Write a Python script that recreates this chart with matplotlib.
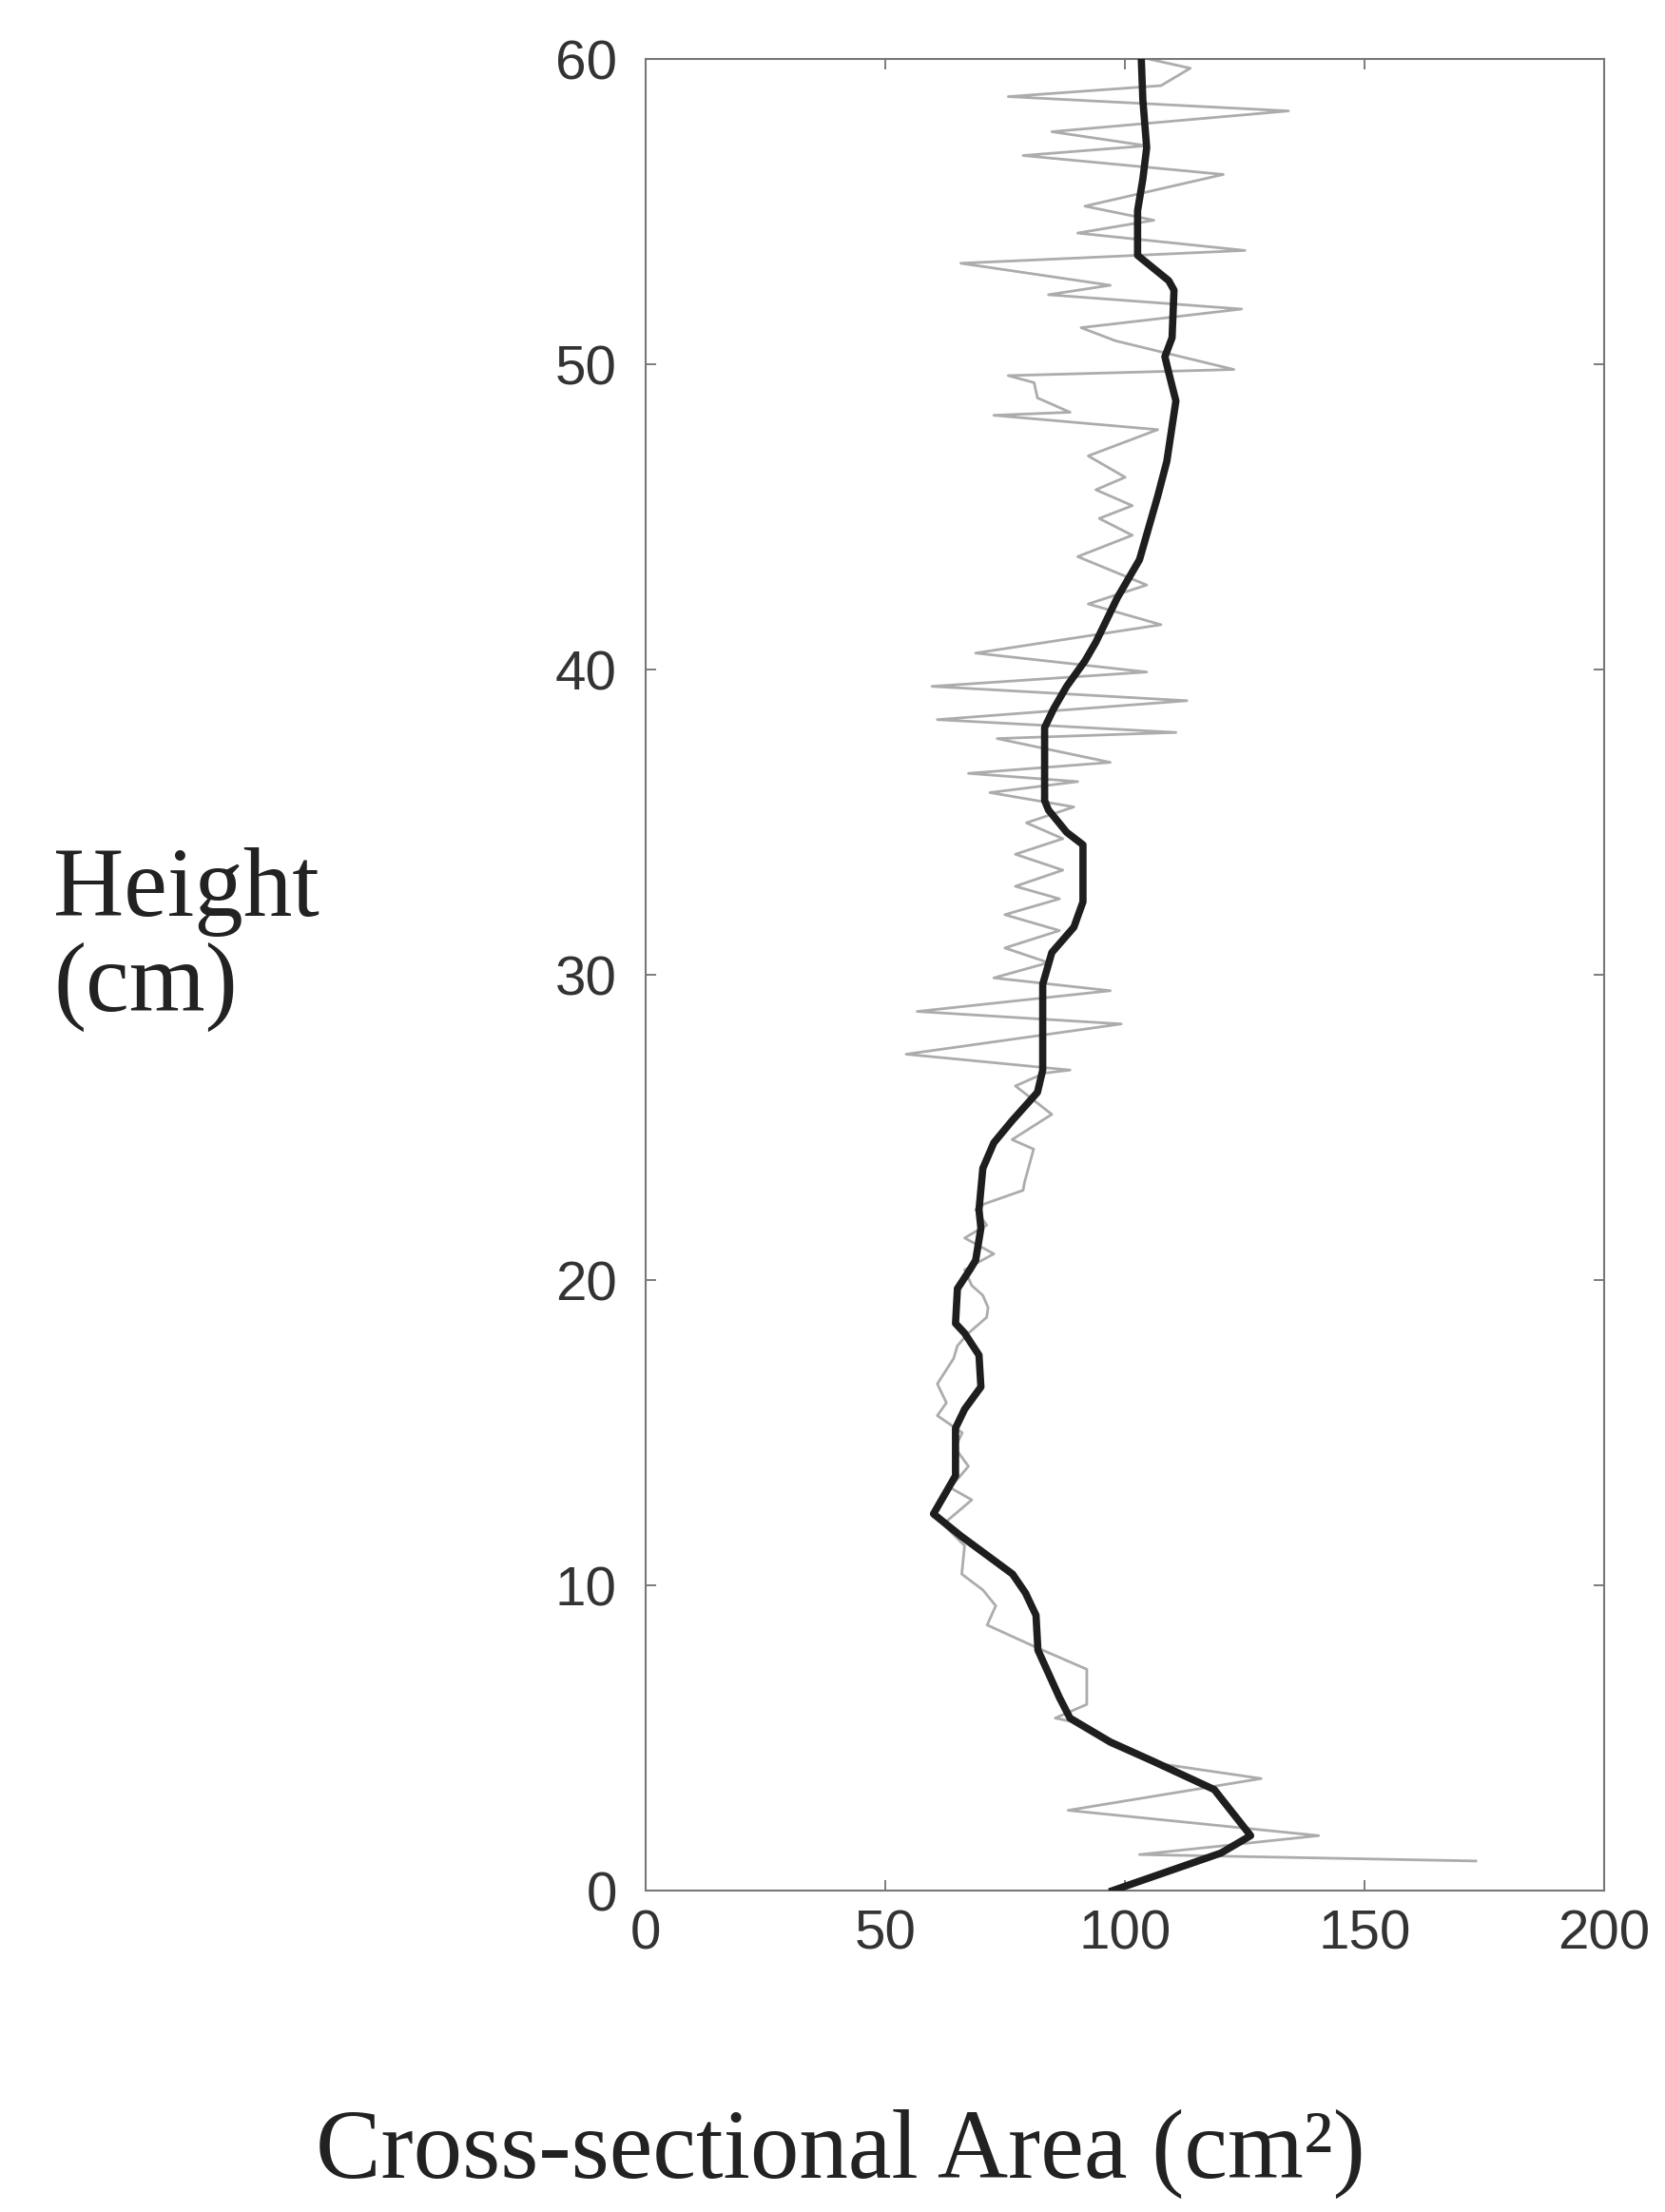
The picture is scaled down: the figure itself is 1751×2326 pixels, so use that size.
import matplotlib
matplotlib.use("Agg")
import matplotlib.pyplot as plt

# raw (thin grey) profile: cross-sectional area vs height
raw_area = [173.2, 103.0, 140.4, 88.1, 128.4, 105.8, 97.0, 88.5, 85.4, 92.0,
            92.0, 81.0, 71.2, 73.0, 70.3, 65.9, 66.5, 62.0, 68.0, 63.5,
            67.3, 64.5, 66.0, 60.8, 62.7, 60.8, 64.2, 65.0, 67.3, 71.1,
            71.4, 70.3, 68.0, 66.5, 72.6, 66.5, 71.1, 68.8, 70.7, 78.7,
            79.0, 80.9, 76.4, 84.7, 77.1, 83.2, 88.5, 54.3, 99.2, 56.6,
            96.9, 72.6, 84.0, 74.9, 86.3, 74.9, 86.3, 77.1, 87.0, 77.1,
            87.0, 79.4, 89.3, 71.8, 90.1, 67.3, 96.9, 73.3, 110.6, 60.8,
            112.9, 59.7, 104.5, 68.8, 107.5, 92.3, 104.5, 90.1, 101.5, 94.6,
            101.5, 93.9, 100.0, 92.3, 106.8, 72.6, 88.5, 81.7, 81.0, 75.6,
            122.7, 98.0, 90.8, 124.3, 84.0, 96.9, 65.7, 125.0, 90.1, 106.0,
            91.6, 120.5, 78.7, 104.5, 84.7, 134.1, 75.6, 107.5, 113.6, 105.0]
raw_height = [0.97, 1.18, 1.80, 2.63, 3.67, 4.19, 4.76, 5.55, 5.65, 6.10,
              7.25, 8.00, 8.70, 9.33, 9.85, 10.37, 11.30, 12.00, 12.80, 13.20,
              13.90, 14.50, 15.00, 15.56, 15.98, 16.60, 17.43, 17.85, 18.26, 18.78,
              19.10, 19.50, 19.82, 20.34, 20.86, 21.38, 21.80, 22.31, 22.50, 22.94,
              23.20, 24.29, 24.60, 25.43, 26.36, 26.78, 26.88, 27.40, 28.39, 28.80,
              29.48, 29.90, 30.40, 30.88, 31.45, 31.97, 32.49, 32.90, 33.43, 33.95,
              34.46, 34.98, 35.50, 35.97, 36.33, 36.60, 36.96, 37.74, 37.94, 38.36,
              38.98, 39.45, 39.92, 40.54, 41.47, 42.15, 42.77, 43.70, 44.40, 44.95,
              45.37, 45.89, 46.30, 47.00, 47.86, 48.33, 48.43, 48.90, 49.40, 49.63,
              49.83, 50.77, 51.20, 51.81, 52.28, 52.59, 53.31, 53.73, 54.30, 54.72,
              55.18, 56.22, 56.84, 57.16, 57.62, 58.30, 58.77, 59.13, 59.70, 60.00]

# smoothed (thick black) profile
smooth_area = [97.4, 120.0, 126.2, 118.6, 105.8, 96.9, 88.5, 86.3, 81.8, 81.4,
               79.2, 76.5, 65.7, 60.0, 64.6, 64.6, 66.5, 69.9, 69.5, 66.5,
               64.6, 65.0, 67.6, 68.8, 69.9, 69.5, 70.3, 72.6, 76.4, 81.7,
               82.8, 82.8, 82.8, 84.7, 89.3, 91.2, 91.2, 87.8, 84.0, 83.2,
               83.2, 85.1, 87.8, 91.6, 93.9, 98.4, 103.0, 106.8, 108.7, 109.4,
               110.6, 109.1, 108.3, 109.8, 110.2, 109.1, 102.6, 102.6, 103.7, 104.5,
               103.7, 103.4]
smooth_height = [0.0, 1.23, 1.80, 3.31, 4.24, 4.87, 5.65, 6.32, 7.88, 9.02,
                 9.75, 10.37, 11.62, 12.34, 13.59, 15.15, 15.77, 16.5, 17.54, 18.26,
                 18.58, 19.72, 20.34, 20.65, 21.7, 22.3, 23.66, 24.5, 25.22, 26.15,
                 26.88, 28.2, 29.69, 30.73, 31.56, 32.39, 34.26, 34.67, 35.4, 35.71,
                 38.1, 38.72, 39.45, 40.28, 40.9, 42.36, 43.6, 45.68, 46.82, 47.55,
                 48.8, 49.73, 50.25, 50.87, 52.43, 52.74, 53.57, 55.03, 56.07, 57.1,
                 58.66, 59.9]

x_ticks = [0, 50, 100, 150, 200]
y_ticks = [0, 10, 20, 30, 40, 50, 60]

fig = plt.figure(figsize=(17.51, 23.26), dpi=100)
ax = fig.add_axes([0.388, 0.1453, 0.5755, 0.828])

ax.plot(raw_area, raw_height, color='#acacac', lw=2.0, zorder=2)
ax.plot(smooth_area, smooth_height, color='#1e1e1e', lw=5.5, zorder=3,
        solid_joinstyle='round')

ax.set_xlim(0, 200)
ax.set_ylim(0, 60)
ax.set_xticks(x_ticks)
ax.set_yticks(y_ticks)
ax.tick_params(direction='in', top=True, right=True, length=8, width=1.2,
               color='#666666', labelsize=42, labelcolor='#333333')
ax.tick_params(axis='x', pad=14)
ax.tick_params(axis='y', pad=22)
for lab in ax.get_xticklabels() + ax.get_yticklabels():
    lab.set_fontfamily('Liberation Sans')
for sp in ax.spines.values():
    sp.set_color('#777777')
    sp.set_linewidth(1.5)

serif = ['Liberation Serif', 'DejaVu Serif']
fig.text(0.032, 0.586, 'Height', family=serif, fontsize=74, color='#222222',
         ha='left', va='baseline')
fig.text(0.032, 0.543, '(cm)', family=serif, fontsize=74, color='#222222',
         ha='left', va='baseline')
fig.text(0.505, 0.0155, 'Cross-sectional Area (cm²)', family=serif, fontsize=74,
         color='#222222', ha='center', va='baseline')

fig.savefig('out.png', dpi=100, facecolor='white')
